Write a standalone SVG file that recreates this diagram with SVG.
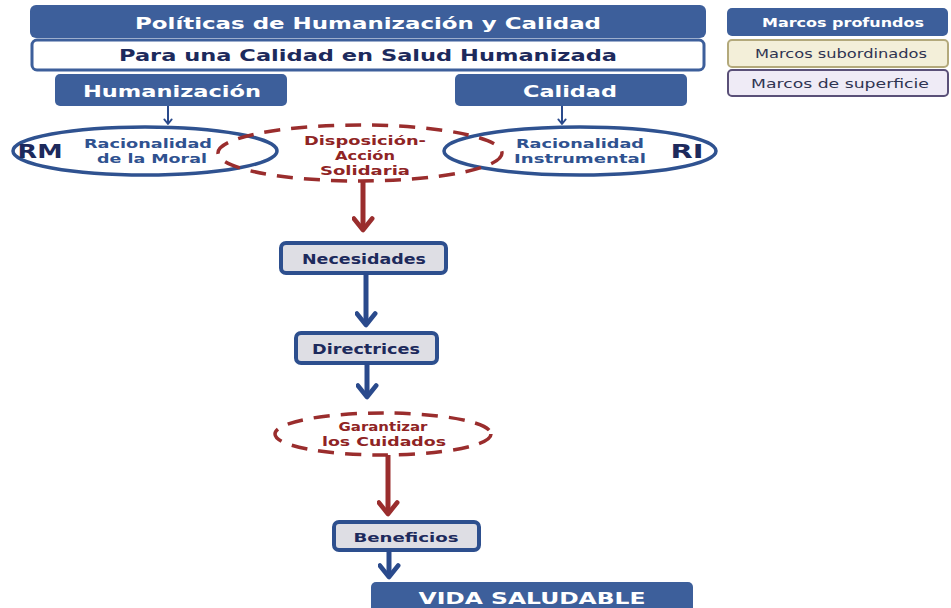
<svg xmlns="http://www.w3.org/2000/svg" width="951" height="608" viewBox="0 0 951 608">
  <style>
    text { font-family: "DejaVu Sans", Verdana, sans-serif; font-weight: bold; text-anchor: middle; }
    .deep { fill: #3d5f9b; }
    .wt { fill: #ffffff; }
    .nv { fill: #1d2a5c; }
    .rd { fill: #8f2424; }
    .lg { fill: #2f3452; font-weight: normal; }
    .box { fill: #dedee4; stroke: #2d4f8e; stroke-width: 4; }
    .ell { fill: none; stroke: #2f5290; stroke-width: 3.5; }
    .dash { fill: none; stroke: #9a2d2d; stroke-width: 3.5; stroke-dasharray: 16 11; }
    .ab { stroke: #2a4a8c; stroke-width: 5; fill: none; }
    .ar { stroke: #9a2d2d; stroke-width: 5; fill: none; }
    .thin { stroke: #2a4a8c; stroke-width: 2; fill: none; }
  </style>
  <defs>
    <!-- open chevron heads, drawn along +x so orient="auto" follows the line -->
    <marker id="hb" viewBox="0 0 10 10" refX="8" refY="5" markerWidth="4.6" markerHeight="4.6" orient="auto" markerUnits="strokeWidth">
      <path d="M3,1 L8,5 L3,9" fill="none" stroke="#2a4a8c" stroke-width="2" stroke-linecap="round" stroke-linejoin="round"/>
    </marker>
    <marker id="hr" viewBox="0 0 10 10" refX="8" refY="5" markerWidth="4.6" markerHeight="4.6" orient="auto" markerUnits="strokeWidth">
      <path d="M3,1 L8,5 L3,9" fill="none" stroke="#9a2d2d" stroke-width="2" stroke-linecap="round" stroke-linejoin="round"/>
    </marker>
  </defs>
  <rect width="951" height="608" fill="#ffffff"/>

  <g id="politicas">
    <rect class="deep" x="30" y="5" width="676" height="33" rx="6"/>
    <text class="wt" x="368" y="29" font-size="16" textLength="466" lengthAdjust="spacingAndGlyphs">Políticas de Humanización y Calidad</text>
  </g>
  <g id="para-una-calidad">
    <rect x="32" y="40" width="672" height="30" rx="5" fill="#ffffff" stroke="#3d5f9b" stroke-width="3"/>
    <text class="nv" x="368" y="61" font-size="15" textLength="498" lengthAdjust="spacingAndGlyphs">Para una Calidad en Salud Humanizada</text>
  </g>
  <g id="humanizacion">
    <rect class="deep" x="55" y="74" width="232" height="32" rx="5"/>
    <text class="wt" x="172" y="97" font-size="16" textLength="178" lengthAdjust="spacingAndGlyphs">Humanización</text>
  </g>
  <g id="calidad">
    <rect class="deep" x="455" y="74" width="232" height="32" rx="5"/>
    <text class="wt" x="570" y="97" font-size="16" textLength="94" lengthAdjust="spacingAndGlyphs">Calidad</text>
  </g>

  <g id="legend">
    <g id="marcos-profundos">
      <rect class="deep" x="727" y="8" width="221" height="28" rx="5"/>
      <text class="wt" x="843" y="27" font-size="12" textLength="162" lengthAdjust="spacingAndGlyphs">Marcos profundos</text>
    </g>
    <g id="marcos-subordinados">
      <rect x="728" y="40" width="220" height="27" rx="4" fill="#f3efd9" stroke="#b3a97b" stroke-width="2"/>
      <text class="lg" x="841" y="58" font-size="12" textLength="172" lengthAdjust="spacingAndGlyphs">Marcos subordinados</text>
    </g>
    <g id="marcos-superficie">
      <rect x="728" y="70" width="220" height="26" rx="4" fill="#efebf6" stroke="#5a5078" stroke-width="2"/>
      <text class="lg" x="840" y="88" font-size="12" textLength="178" lengthAdjust="spacingAndGlyphs">Marcos de superficie</text>
    </g>
  </g>

  <g id="racionalidad-moral">
    <ellipse class="ell" cx="145" cy="151" rx="132" ry="24"/>
    <text class="nv" x="40" y="158" font-size="19" textLength="45" lengthAdjust="spacingAndGlyphs">RM</text>
    <text x="148" y="148" font-size="13" fill="#2f5290" textLength="128" lengthAdjust="spacingAndGlyphs">Racionalidad</text>
    <text x="152" y="163" font-size="13" fill="#2f5290" textLength="110" lengthAdjust="spacingAndGlyphs">de la Moral</text>
  </g>
  <g id="racionalidad-instrumental">
    <ellipse class="ell" cx="580" cy="151" rx="136" ry="24"/>
    <text x="580" y="148" font-size="13" fill="#2f5290" textLength="128" lengthAdjust="spacingAndGlyphs">Racionalidad</text>
    <text x="580" y="163" font-size="13" fill="#2f5290" textLength="132" lengthAdjust="spacingAndGlyphs">Instrumental</text>
    <text class="nv" x="687" y="158" font-size="19" textLength="33" lengthAdjust="spacingAndGlyphs">RI</text>
  </g>
  <g id="disposicion-accion">
    <ellipse class="dash" cx="360" cy="153" rx="142" ry="28"/>
    <text class="rd" x="365" y="145" font-size="13" textLength="122" lengthAdjust="spacingAndGlyphs">Disposición-</text>
    <text class="rd" x="365" y="160" font-size="13" textLength="60" lengthAdjust="spacingAndGlyphs">Acción</text>
    <text class="rd" x="365" y="175" font-size="13" textLength="90" lengthAdjust="spacingAndGlyphs">Solidaria</text>
  </g>

  <g id="necesidades">
    <rect class="box" x="281" y="243" width="165" height="30" rx="5"/>
    <text class="nv" x="364" y="264" font-size="14" textLength="124" lengthAdjust="spacingAndGlyphs">Necesidades</text>
  </g>
  <g id="directrices">
    <rect class="box" x="296" y="333" width="141" height="30" rx="5"/>
    <text class="nv" x="366" y="354" font-size="14" textLength="108" lengthAdjust="spacingAndGlyphs">Directrices</text>
  </g>
  <g id="garantizar">
    <ellipse class="dash" cx="383" cy="434" rx="108" ry="21"/>
    <text class="rd" x="383" y="431" font-size="13" textLength="89" lengthAdjust="spacingAndGlyphs">Garantizar</text>
    <text class="rd" x="384" y="446" font-size="13" textLength="124" lengthAdjust="spacingAndGlyphs">los Cuidados</text>
  </g>
  <g id="beneficios">
    <rect class="box" x="334" y="522" width="145" height="28" rx="5"/>
    <text class="nv" x="406" y="542" font-size="13" textLength="105" lengthAdjust="spacingAndGlyphs">Beneficios</text>
  </g>
  <g id="vida-saludable">
    <rect class="deep" x="371" y="582" width="322" height="32" rx="5"/>
    <text class="wt" x="532" y="604" font-size="16" textLength="227" lengthAdjust="spacingAndGlyphs">VIDA SALUDABLE</text>
  </g>

  <g id="connectors">
    <path class="thin" d="M168,106 V124" marker-end="url(#hb)"/>
    <path class="thin" d="M562,106 V124" marker-end="url(#hb)"/>
    <path class="ar" d="M363,181 V230" marker-end="url(#hr)"/>
    <path class="ab" d="M366,273 V325" marker-end="url(#hb)"/>
    <path class="ab" d="M367,363 V397" marker-end="url(#hb)"/>
    <path class="ar" d="M388,455 V514" marker-end="url(#hr)"/>
    <path class="ab" d="M389,550 V577" marker-end="url(#hb)"/>
  </g>
</svg>
